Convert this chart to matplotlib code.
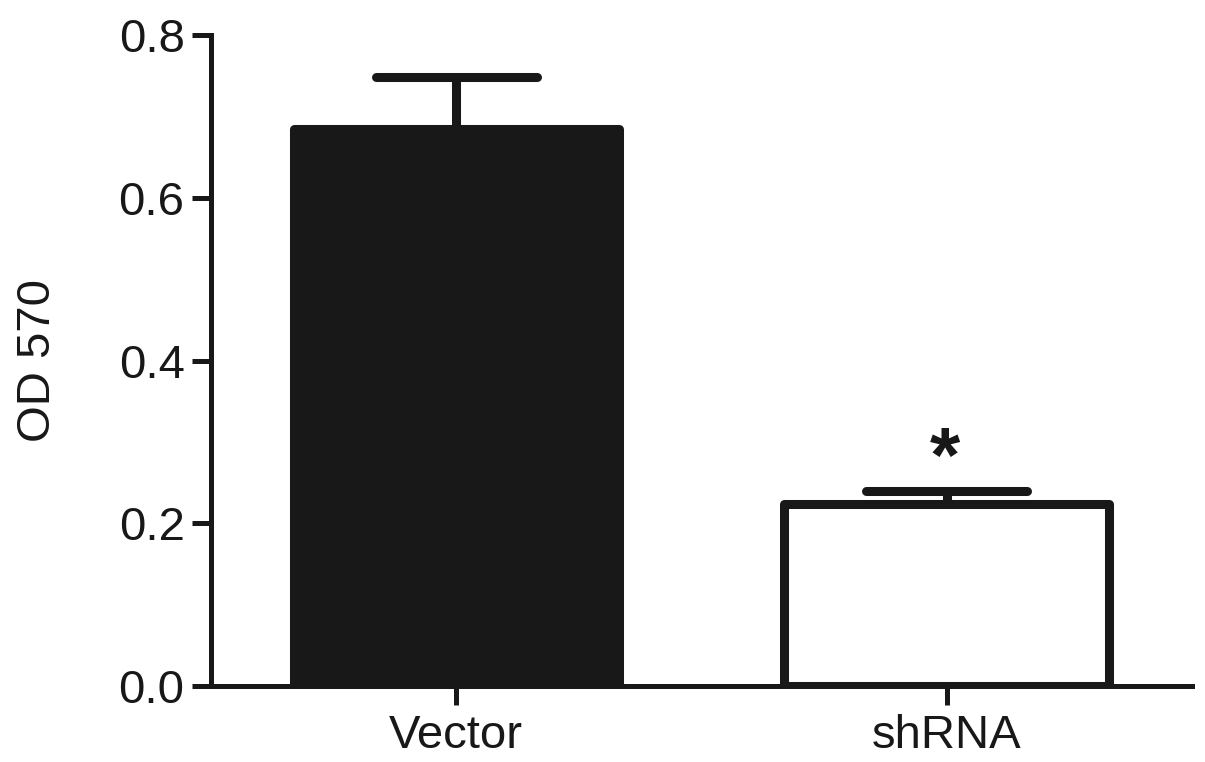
import matplotlib
matplotlib.use("Agg")
import matplotlib.pyplot as plt
import numpy as np

categories = ["Vector", "shRNA"]
means = [0.684, 0.224]
sems = [0.064, 0.016]
face_colors = ["#181818", "white"]
sig_marks = ["", "*"]
y_ticks = [0.0, 0.2, 0.4, 0.6, 0.8]
y_tick_labels = ["0.0", "0.2", "0.4", "0.6", "0.8"]
y_label = "OD 570"

plt.rcParams["font.family"] = ["Liberation Sans", "DejaVu Sans"]
ink = "#181818"

fig = plt.figure(figsize=(12.05, 7.62), dpi=100)
ax = fig.add_axes([0.1751, 0.0997, 0.8141, 0.8543])

x = np.arange(len(categories))
means_a = np.array(means)
sems_a = np.array(sems)
tops = means_a + sems_a

ax.bar(x, means_a, width=0.663, color=face_colors, edgecolor=ink,
       linewidth=6.5, joinstyle="round", zorder=3)
ax.vlines(x, means_a, tops, colors=ink, linewidth=6.5, zorder=2)
ax.hlines(tops, x - 0.164, x + 0.164, colors=ink, linewidth=6.5,
          capstyle="round", zorder=2)

for xi, t, m in zip(x, tops, sig_marks):
    if m:
        ax.annotate(m, (xi, t), xytext=(-1, -5), textcoords="offset points",
                    ha="center", va="bottom", fontsize=56, fontweight="bold",
                    color=ink)

ax.set_xlim(-0.5, 1.5)
ax.set_ylim(0, 0.8)
ax.set_yticks(y_ticks)
ax.set_yticklabels(y_tick_labels)
ax.set_xticks(x)
ax.set_xticklabels(categories)

for s in ["top", "right"]:
    ax.spines[s].set_visible(False)
for s in ["left", "bottom"]:
    ax.spines[s].set_linewidth(3.6)
    ax.spines[s].set_color(ink)
    ax.spines[s].set_zorder(4)

ax.tick_params(axis="both", direction="out", length=14, width=3.6,
               colors=ink, labelsize=34)
ax.tick_params(axis="y", pad=5)
ax.tick_params(axis="x", pad=6)

ax.set_ylabel(y_label, fontsize=34, color=ink)
ax.yaxis.set_label_coords(-0.154, 0.5)

fig.savefig("out.png", dpi=100)
